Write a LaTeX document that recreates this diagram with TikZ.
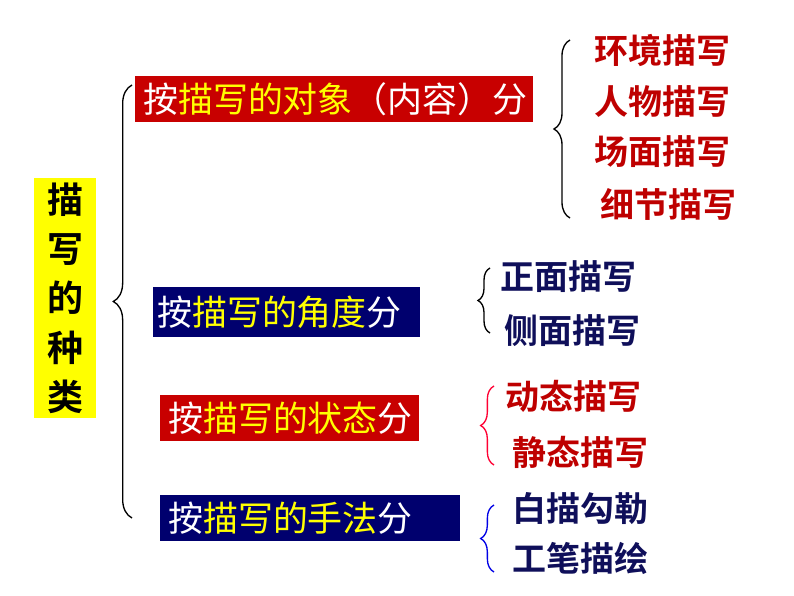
\documentclass[tikz,border=0pt]{standalone}
\usepackage{fontspec}
\setmainfont{Noto Sans CJK SC Bold}
\newfontfamily\boxfont{Noto Sans CJK SC}
\usetikzlibrary{decorations.pathreplacing}
\definecolor{boxred}{RGB}{200,0,0}
\definecolor{boxnavy}{RGB}{0,0,110}
\definecolor{itemred}{RGB}{190,0,0}
\definecolor{itemnavy}{RGB}{15,15,90}
\definecolor{ylw}{RGB}{255,255,0}
\begin{document}
\begin{tikzpicture}[x=0.75pt,y=-0.75pt,
  cat/.style={anchor=west,inner xsep=0pt,inner ysep=0pt,minimum height=34pt,text=white,align=left,text width=#1,font=\boxfont\fontsize{26.2}{28}\selectfont},
  item/.style={anchor=west,inner sep=0pt,font=\fontsize{25.5}{27}\selectfont},
  br/.style={decorate,decoration={brace,amplitude=#1},line width=1pt}]
\useasboundingbox (0,0) rectangle (794,596);
\node[fill=ylw,minimum width=46pt,minimum height=180pt,inner sep=0pt,align=center,font=\fontsize{27}{37}\selectfont] (t) at (65,298) {描\\写\\的\\种\\类};
\draw[br=14pt] (132,518) -- (132,85);
\node[cat=298pt,fill=boxred] (c1) at (135,99) {\hspace{6pt}按\textcolor{ylw}{描写的对象}（内容）分};
\node[cat=200pt,fill=boxnavy,minimum height=37pt] (c2) at (153,312) {\hspace{3pt}按\textcolor{ylw}{描写的角度}分};
\node[cat=194pt,fill=boxred] (c3) at (160,418) {\hspace{6pt}按\textcolor{ylw}{描写的状态}分};
\node[cat=225pt,fill=boxnavy] (c4) at (160,518) {\hspace{6pt}按\textcolor{ylw}{描写的手法}分};
\draw[br=12pt] (570,218) -- (570,40);
\node[item,text=itemred] (a1) at (594,50) {环境描写};
\node[item,text=itemred] (a2) at (594,102) {人物描写};
\node[item,text=itemred] (a3) at (594,152) {场面描写};
\node[item,text=itemred] (a4) at (600,204) {细节描写};
\draw[br=9pt] (490,333) -- (490,268);
\node[item,text=itemnavy] (b1) at (500,277) {正面描写};
\node[item,text=itemnavy] (b2) at (504,331) {侧面描写};
\draw[br=10pt,color=red!80!magenta] (494,465) -- (494,386);
\node[item,text=itemred] (d1) at (505,396) {动态描写};
\node[item,text=itemred] (d2) at (512,452) {静态描写};
\draw[br=10pt,color=blue!90!black] (494,572) -- (494,505);
\node[item,text=itemnavy] (e1) at (512,509) {白描勾勒};
\node[item,text=itemnavy] (e2) at (512,558) {工笔描绘};
\end{tikzpicture}
\end{document}
